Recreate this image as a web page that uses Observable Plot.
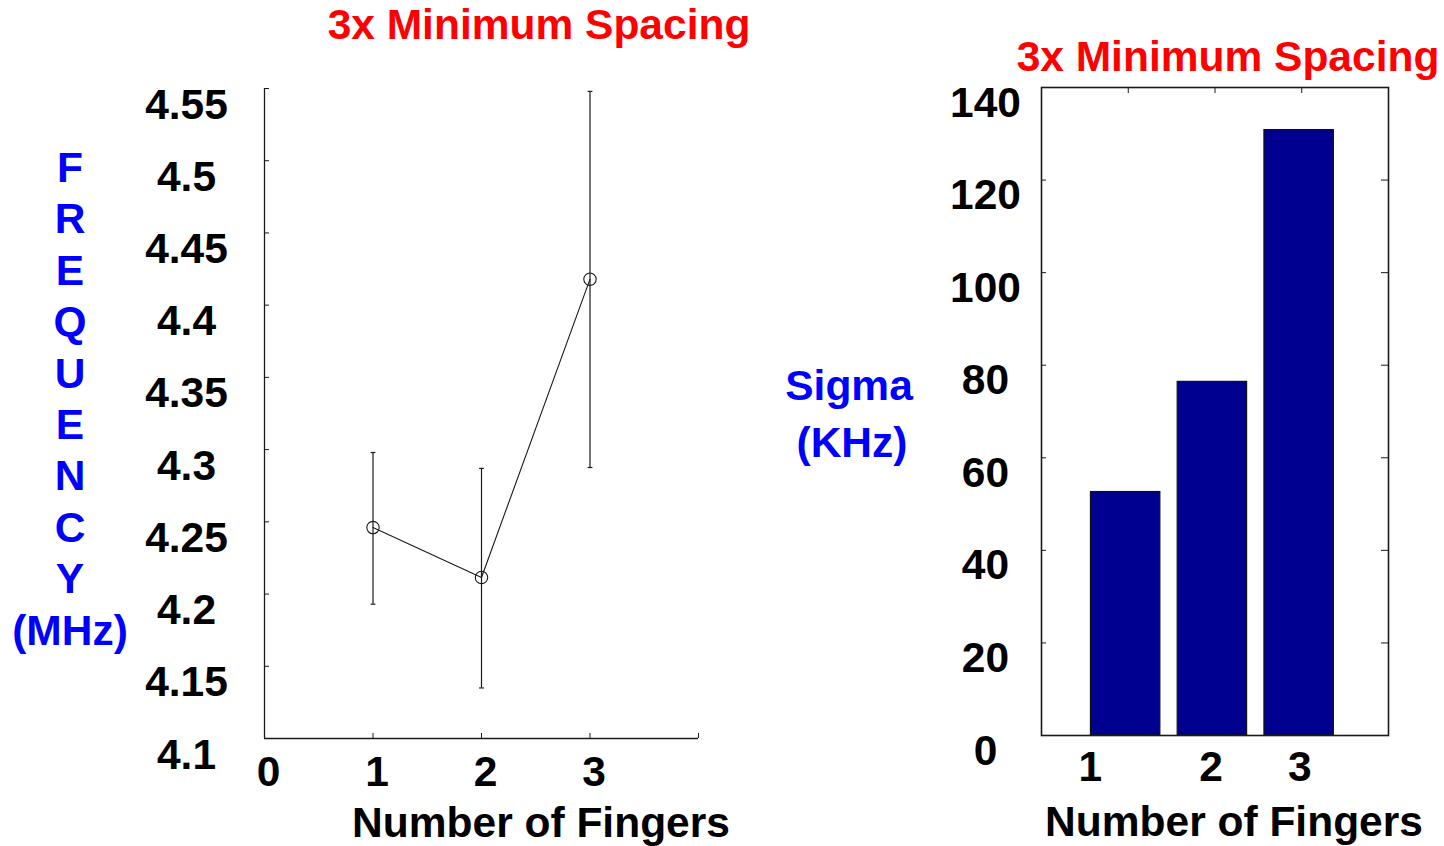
<!DOCTYPE html>
<html>
<head>
<meta charset="utf-8">
<script src="https://cdn.jsdelivr.net/npm/d3@7"></script>
<script src="https://cdn.jsdelivr.net/npm/@observablehq/plot@0.6"></script>
<style>
  html, body { margin: 0; padding: 0; background: #fff; }
  #page { position: relative; width: 1444px; height: 846px; overflow: hidden;
          font-family: "Liberation Sans", Arial, sans-serif; font-weight: bold; }
  .t { position: absolute; font-size: 42.5px; line-height: 50px; white-space: nowrap;
       transform: translateX(-50%); text-align: center; }
  .red { color: #ff0000; }
  .blue { color: #0000ff; }
  .black { color: #000; }
  .stack { line-height: 51.4px; }
  .panel { position: absolute; top: 0; }
</style>
</head>
<body>
<div id="page">
  <div class="t red" style="left:539px; top:0px;">3x Minimum Spacing</div>
  <div class="t red" style="left:1228px; top:32px;">3x Minimum Spacing</div>
  <div class="t blue stack" style="left:70px; top:142px;">F<br>R<br>E<br>Q<br>U<br>E<br>N<br>C<br>Y<br>(MHz)</div>
  <div class="t blue" style="left:849px; top:361px;">Sigma</div>
  <div class="t blue" style="left:852px; top:418px;">(KHz)</div>
  <div class="t black" style="left:541px; top:798px;">Number of Fingers</div>
  <div class="t black" style="left:1234px; top:797px;">Number of Fingers</div>
</div>
<script>
// Number of fingers in the test structure
const fingers = [1, 2, 3];

// Mean resonant frequency (MHz) with the spread shown as error bars
const freqMean = [4.246, 4.2115, 4.418];
const freqLow  = [4.193, 4.135, 4.2876];
const freqHigh = [4.298, 4.287, 4.548];

// Standard deviation of the frequency (KHz)
const sigmaKHz = [52.6, 76.4, 130.8];

// Tick values
const freqTicks  = [4.1, 4.15, 4.2, 4.25, 4.3, 4.35, 4.4, 4.45, 4.5, 4.55];
const fingerTicksLeft = [0, 1, 2, 3];
const sigmaTicks = [0, 20, 40, 60, 80, 100, 120, 140];

const FONT = "'Liberation Sans', Arial, sans-serif";
const INK = "#1a1a1a";
const textStyle = {fontSize: 42.5, fontWeight: "bold", fill: "#000"};

const freqRows = fingers.map((n, i) => ({n, mean: freqMean[i], lo: freqLow[i], hi: freqHigh[i]}));
const sigmaRows = fingers.map((n, i) => ({n, sigma: sigmaKHz[i]}));

const capHalf = 0.022;   // half width of the error-bar caps, in fingers
const barHalf = 0.4;     // half width of each bar, in fingers

const baseStyle = {fontFamily: FONT, fontSize: "42.5px", fontWeight: "bold", color: "#000",
                   background: "transparent", overflow: "visible"};

// Left panel: frequency vs. number of fingers
const freqPlot = Plot.plot({
  width: 720, height: 846,
  marginLeft: 264, marginRight: 22, marginTop: 88, marginBottom: 108,
  x: {domain: [0, 4]},
  y: {domain: [4.1, 4.55]},
  style: baseStyle,
  marks: [
    Plot.ruleX([0], {stroke: INK, strokeWidth: 1.3}),
    Plot.ruleY([4.1], {stroke: INK, strokeWidth: 1.3}),
    Plot.axisY(freqTicks, {tickSize: 5, insetLeft: 5, fill: "none", stroke: INK, label: null}),
    Plot.axisY(freqTicks, {tickSize: 0, tickPadding: 78, textAnchor: "middle", dy: 16.5,
                           tickFormat: d => String(d), label: null, ...textStyle}),
    Plot.axisX([1, 2, 3, 4], {tickSize: 5, insetBottom: 5, fill: "none", stroke: INK, label: null}),
    Plot.axisX(fingerTicksLeft, {tickSize: 0, tickPadding: 17, dx: 4,
                                 tickFormat: d => String(d), label: null, ...textStyle}),
    Plot.ruleX(freqRows, {x: "n", y1: "lo", y2: "hi", stroke: INK, strokeWidth: 1.2}),
    Plot.link(freqRows, {x1: d => d.n - capHalf, x2: d => d.n + capHalf, y1: "hi", y2: "hi", stroke: INK, strokeWidth: 1.2}),
    Plot.link(freqRows, {x1: d => d.n - capHalf, x2: d => d.n + capHalf, y1: "lo", y2: "lo", stroke: INK, strokeWidth: 1.2}),
    Plot.line(freqRows, {x: "n", y: "mean", stroke: INK, strokeWidth: 1.1}),
    Plot.dot(freqRows, {x: "n", y: "mean", r: 6.2, stroke: INK, strokeWidth: 1.1, fill: "none"})
  ]
});

// Right panel: sigma vs. number of fingers
const xLabelNudge = [-38, -4, -2];
const sigmaPlot = Plot.plot({
  width: 504, height: 846,
  marginLeft: 101, marginRight: 56, marginTop: 87, marginBottom: 111,
  x: {domain: [0, 4]},
  y: {domain: [0, 140]},
  style: baseStyle,
  marks: [
    Plot.rectY(sigmaRows, {x1: d => d.n - barHalf - 0.03, x2: d => d.n + barHalf - 0.03, y1: 0, y2: "sigma",
                           fill: "#000090", stroke: "#111", strokeWidth: 1.2}),
    Plot.frame({stroke: INK, strokeWidth: 1.6}),
    Plot.axisY(sigmaTicks, {tickSize: 5, insetLeft: 5, fill: "none", stroke: INK, label: null}),
    Plot.axisY(sigmaTicks, {anchor: "right", tickSize: 8, insetRight: 8, fill: "none", stroke: INK, label: null}),
    Plot.axisX(fingers, {anchor: "top", tickSize: 5, insetTop: 5, fill: "none", stroke: INK, label: null}),
    Plot.axisY(sigmaTicks, {tickSize: 0, tickPadding: 56, textAnchor: "middle", dy: 15.5,
                            tickFormat: d => String(d), label: null, ...textStyle}),
    ...fingers.map((n, i) => Plot.text([n], {x: d => d, text: d => String(d), frameAnchor: "bottom",
                                             lineAnchor: "top", dy: 15, dx: xLabelNudge[i], ...textStyle}))
  ]
});

const page = document.getElementById("page");
const leftBox = document.createElement("div");
leftBox.className = "panel";
leftBox.style.left = "0px";
leftBox.append(freqPlot);
const rightBox = document.createElement("div");
rightBox.className = "panel";
rightBox.style.left = "940px";
rightBox.append(sigmaPlot);
page.prepend(leftBox, rightBox);
</script>
</body>
</html>
